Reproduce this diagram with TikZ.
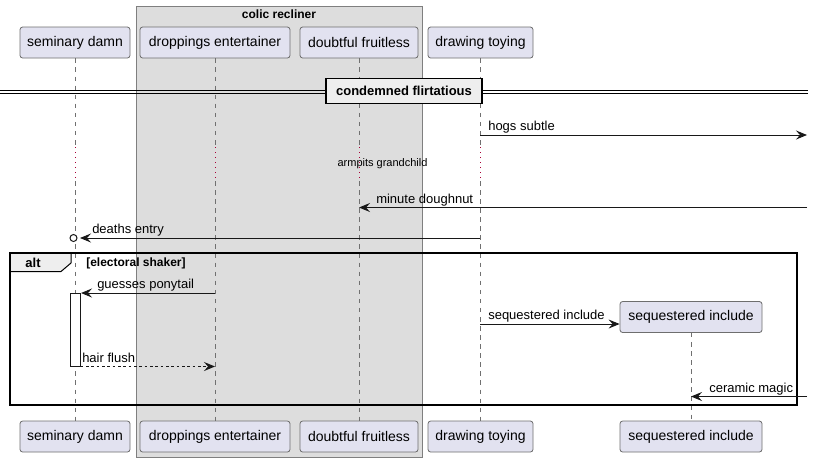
\documentclass[tikz,border=0pt]{standalone}
\usepackage{fontspec}
\setmainfont{Liberation Sans}
\usetikzlibrary{arrows.meta}
\definecolor{partfill}{HTML}{E2E2F0}
\definecolor{partdraw}{HTML}{6E6E6E}
\definecolor{grpfill}{HTML}{DDDDDD}
\definecolor{grpdraw}{HTML}{7F7F7F}
\definecolor{delayc}{HTML}{A80036}
\definecolor{lifec}{HTML}{707070}
\definecolor{tabfill}{HTML}{EEEEEE}
\definecolor{msgc}{HTML}{181818}
\tikzset{
  part/.style={draw=partdraw, fill=partfill, line width=0.6pt, rounded corners=2pt,
    inner sep=0pt, minimum height=23.25pt, font=\fontsize{10.5pt}{12pt}\selectfont},
  life/.style={draw=lifec, line width=0.5pt, dash pattern=on 3.4pt off 3.4pt},
  delayline/.style={draw=delayc, line width=0.75pt, dash pattern=on 0.75pt off 3pt},
  msg/.style={draw=msgc, line width=0.75pt, -{Stealth[length=8.25pt,width=6.75pt,inset=3pt]}},
  msgdash/.style={msg, dash pattern=on 2pt off 2pt},
  lbl/.style={font=\fontsize{9.75pt}{11pt}\selectfont, inner sep=0pt, anchor=base west, text=black},
  grp/.style={draw=grpdraw, fill=grpfill, line width=0.75pt},
}
\begin{document}
\begin{tikzpicture}[x=0.75pt,y=-0.75pt]
\useasboundingbox (0,0) rectangle (813,462);

% group box
\draw[grp] (136,6) rectangle (422,457);
\node[font=\bfseries\fontsize{9pt}{10pt}\selectfont, inner sep=0pt] (grpT) at (279,14.5) {colic recliner};

% participants top
\node[part, minimum width=82.5pt] (sdT) at (75,42.5) {seminary damn};
\node[part, minimum width=112.5pt] (deT) at (215,42.5) {droppings entertainer};
\node[part, minimum width=88.5pt] (dfT) at (359,42.5) {doubtful fruitless};
\node[part, minimum width=78.75pt] (dtT) at (480.5,42.5) {drawing toying};
% participants bottom
\node[part, minimum width=82.5pt] (sdB) at (75,436.5) {seminary damn};
\node[part, minimum width=112.5pt] (deB) at (215,436.5) {droppings entertainer};
\node[part, minimum width=88.5pt] (dfB) at (359,436.5) {doubtful fruitless};
\node[part, minimum width=78.75pt] (dtB) at (480.5,436.5) {drawing toying};
\node[part, minimum width=106.5pt] (siB) at (691,436.5) {sequestered include};

% delay coordinates
\coordinate (sd1) at (75,147);  \coordinate (sd2) at (75,181);
\coordinate (de1) at (215,147); \coordinate (de2) at (215,181);
\coordinate (df1) at (359,147); \coordinate (df2) at (359,181);
\coordinate (dt1) at (480,147); \coordinate (dt2) at (480,181);

% lifelines
\draw[life] (sdT.south) -- (sd1); \draw[delayline] (sd1) -- (sd2); \draw[life] (sd2) -- (sdB.north);
\draw[life] (deT.south) -- (de1); \draw[delayline] (de1) -- (de2); \draw[life] (de2) -- (deB.north);
\draw[life] (dfT.south) -- (df1); \draw[delayline] (df1) -- (df2); \draw[life] (df2) -- (dfB.north);
\draw[life] (dtT.south -| dt1) -- (dt1); \draw[delayline] (dt1) -- (dt2); \draw[life] (dt2) -- (dtB.north -| dt2);

% created participant
\node[part, minimum width=106.5pt] (siT) at (691,317) {sequestered include};
\draw[life] (siT.south) -- (siB.north);

% divider
\draw[line width=0.75pt] (0,90.7) -- (808,90.7);
\draw[line width=0.75pt] (0,93.3) -- (808,93.3);
\node[draw=black, fill=tabfill, line width=1.3pt, minimum width=117pt, minimum height=18.75pt,
  inner sep=0pt, font=\bfseries\fontsize{9.75pt}{11pt}\selectfont] (div) at (404,91) {condemned flirtatious};

% hogs subtle
\coordinate (m1s) at (480,135); \coordinate (R1) at (807,135);
\draw[msg] (m1s) -- (R1);
\node[lbl] (l1) at (488,130.5) {hogs subtle};

% delay text
\node[font=\fontsize{8.25pt}{9pt}\selectfont, inner sep=0pt] (dly) at (382.5,164) {armpits grandchild};

% minute doughnut
\coordinate (R2) at (807,207.5); \coordinate (m2e) at (359,207.5);
\draw[msg] (R2) -- (m2e);
\node[lbl] (l2) at (376,203) {minute doughnut};

% deaths entry
\coordinate (m3s) at (480,238); \coordinate (m3e) at (80,238);
\draw[msg] (m3s) -- (m3e);
\node[draw=msgc, fill=white, circle, line width=0.75pt, minimum size=5.25pt, inner sep=0pt] (circ) at (73.5,238) {};
\node[lbl] (l3) at (92,233.5) {deaths entry};

% alt frame
\draw[draw=black, fill=tabfill, line width=0.75pt] (10,253) -- (71,253) -- (71,263) -- (61,271.5) -- (10,271.5) -- cycle;
\draw[black, line width=1.3pt] (10,253) rectangle (797,405);
\node[font=\bfseries\fontsize{9.75pt}{11pt}\selectfont, inner sep=0pt] (alt) at (33,262.5) {alt};
\node[font=\bfseries\fontsize{9pt}{10pt}\selectfont, inner sep=0pt, anchor=west] (grd) at (86,263) {[electoral shaker]};

% activation
\draw[draw=msgc, fill=white, line width=0.75pt] (70.3,293) rectangle (80.7,366.5);
\coordinate (act1) at (81,293); \coordinate (act2) at (80.7,366.5);

% guesses ponytail
\coordinate (m4s) at (215,293);
\draw[msg] (m4s) -- (act1);
\node[lbl] (l4) at (97,288.5) {guesses ponytail};

% sequestered include
\coordinate (m5s) at (480,324);
\draw[msg] (m5s) -- (siT.west |- m5s);
\node[lbl] (l5) at (488,319.5) {sequestered include};

% hair flush
\coordinate (m6e) at (215,366.5);
\draw[msgdash] (act2) -- (m6e);
\node[lbl] (l6) at (82,362) {hair flush};

% ceramic magic
\coordinate (R7) at (807,396.5); \coordinate (m7e) at (691,396.5);
\draw[msg] (R7) -- (m7e);
\node[lbl] (l7) at (709,392) {ceramic magic};
\end{tikzpicture}
\end{document}
